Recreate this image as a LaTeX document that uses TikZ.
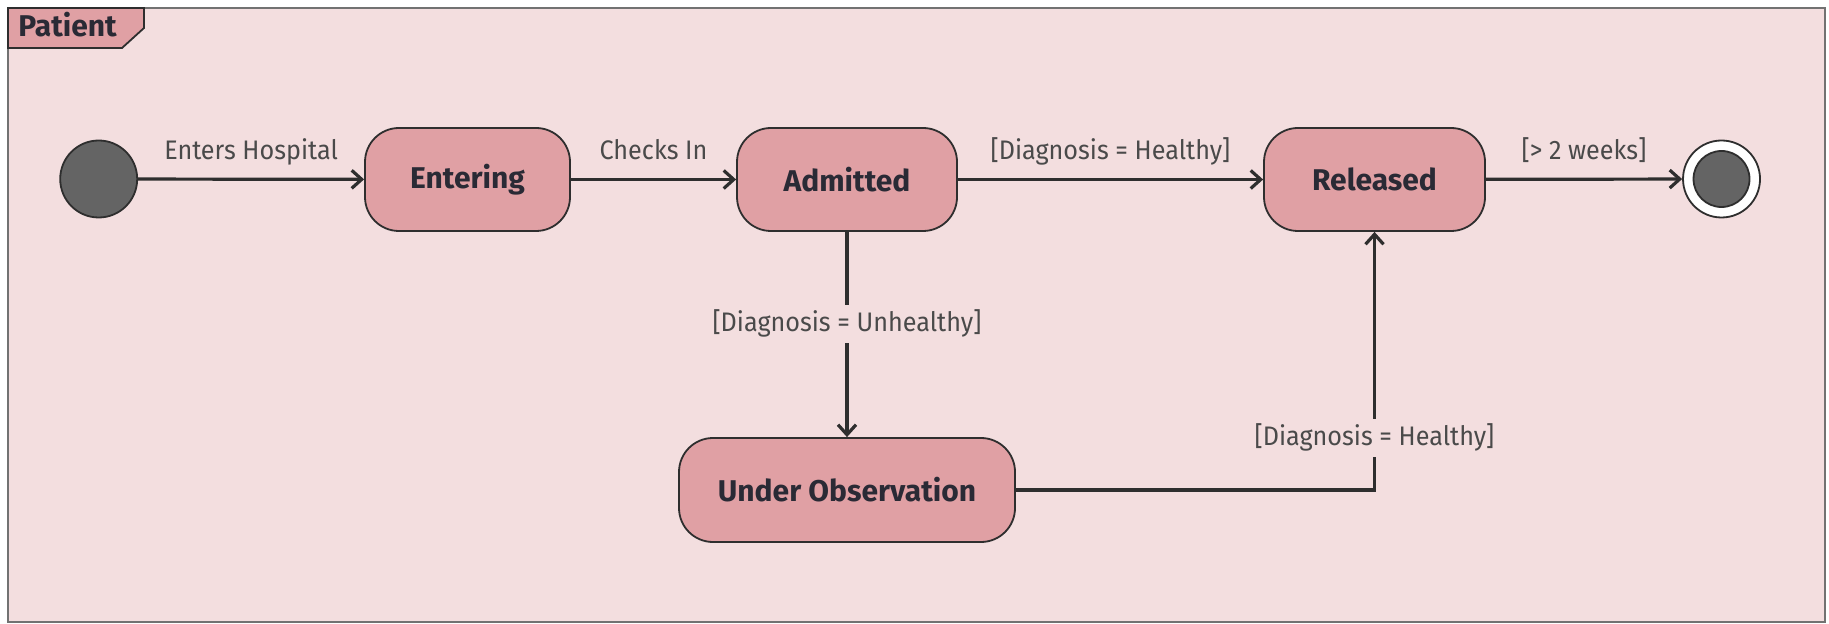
\documentclass[tikz,border=0pt]{standalone}
\usepackage{fontspec}
\setmainfont{Fira Sans}
\usetikzlibrary{arrows.meta}
\definecolor{framebg}{HTML}{F3DEDF}
\definecolor{statebg}{HTML}{E0A0A4}
\definecolor{lineclr}{HTML}{2E2E2E}
\definecolor{txtclr}{HTML}{4A4A4A}
\definecolor{dotclr}{HTML}{646464}
\definecolor{frameclr}{HTML}{727272}
\definecolor{nameclr}{HTML}{2A2A35}
\begin{document}
\begin{tikzpicture}[
    state/.style={draw=lineclr, line width=0.9pt, fill=statebg, rounded corners=17pt, minimum height=51.5pt, font=\fontsize{15}{18}\selectfont\bfseries, text=nameclr},
    dot/.style={circle, draw=lineclr, line width=0.9pt, fill=dotclr, inner sep=0pt},
    trans/.style={draw=lineclr, line width=1.6pt, -{Straight Barb[length=5pt,width=9pt]}},
    guard/.style={font=\fontsize{13.4}{16}\selectfont\addfontfeatures{FakeStretch=0.94}, text=txtclr, text height=10pt, text depth=3pt, inner sep=2pt}
]
    \useasboundingbox (0pt,0pt) rectangle (914.5pt,-312pt);
    \draw[frameclr, line width=1.4pt, fill=framebg] (4pt,-4pt) rectangle (912.5pt,-311pt);
    \draw[lineclr, line width=0.9pt, fill=statebg] (4pt,-4pt) -- (72pt,-4pt) -- (72pt,-14pt) -- (61pt,-24pt) -- (4pt,-24pt) -- cycle;
    \node[anchor=base west, inner sep=0pt, font=\fontsize{15}{18}\selectfont\bfseries, text=nameclr] (patient) at (9pt,-18.3pt) {Patient};
    \node[dot, minimum size=38.5pt] (start) at (49.35pt,-89.5pt) {};
    \node[state, minimum width=102.5pt] (entering) at (233.75pt,-89.75pt) {Entering};
    \node[state, minimum width=110pt] (admitted) at (423.5pt,-89.75pt) {Admitted};
    \node[state, minimum width=110.5pt] (released) at (687.25pt,-89.75pt) {Released};
    \node[state, minimum width=168pt, minimum height=52pt] (underobs) at (423.5pt,-245pt) {Under Observation};
    \node[circle, draw=lineclr, line width=0.9pt, fill=white, minimum size=38.5pt] (final) at (860.75pt,-89.5pt) {};
    \node[dot, minimum size=28pt] (finaldot) at (final) {};
    \draw[trans] (start) -- node[guard, above=4pt] {Enters Hospital} (entering);
    \draw[trans] (entering) -- node[guard, above=4pt] {Checks In} (admitted);
    \draw[trans] (admitted) -- node[guard, above=4pt] {[Diagnosis = Healthy]} (released);
    \draw[trans] (released) -- node[guard, above=4pt] {[\textgreater{} 2 weeks]} (final);
    \draw[trans] (admitted) -- node[guard, fill=framebg, inner sep=3pt, pos=0.45] {[Diagnosis = Unhealthy]} (underobs);
    \draw[trans] (underobs.east) -| node[guard, fill=framebg, inner sep=3pt, pos=0.6] {[Diagnosis = Healthy]} (released.south);
\end{tikzpicture}
\end{document}
